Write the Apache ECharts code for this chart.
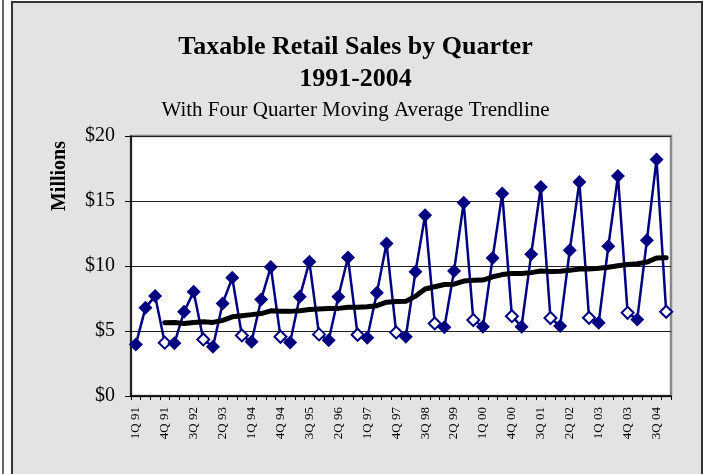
<!DOCTYPE html>
<html>
<head>
<meta charset="UTF-8">
<title>Taxable Retail Sales by Quarter</title>
<script src="https://cdn.jsdelivr.net/npm/echarts@6/dist/echarts.min.js"></script>
<style>
  html, body { margin: 0; padding: 0; background: #fff; }
</style>
</head>
<body>
<div id="main" style="width:711px;height:474px;"></div>
<script type="text/javascript">
// quarter labels, 1Q 91 .. 4Q 04
var quarters = [
  '1Q 91','2Q 91','3Q 91','4Q 91','1Q 92','2Q 92','3Q 92','4Q 92',
  '1Q 93','2Q 93','3Q 93','4Q 93','1Q 94','2Q 94','3Q 94','4Q 94',
  '1Q 95','2Q 95','3Q 95','4Q 95','1Q 96','2Q 96','3Q 96','4Q 96',
  '1Q 97','2Q 97','3Q 97','4Q 97','1Q 98','2Q 98','3Q 98','4Q 98',
  '1Q 99','2Q 99','3Q 99','4Q 99','1Q 00','2Q 00','3Q 00','4Q 00',
  '1Q 01','2Q 01','3Q 01','4Q 01','1Q 02','2Q 02','3Q 02','4Q 02',
  '1Q 03','2Q 03','3Q 03','4Q 03','1Q 04','2Q 04','3Q 04','4Q 04'
];

// taxable retail sales, $ millions
var sales = [
  3.97, 6.78, 7.70, 4.10, 4.05, 6.48, 8.01, 4.35,
  3.79, 7.12, 9.09, 4.66, 4.17, 7.43, 9.93, 4.56,
  4.12, 7.63, 10.32, 4.74, 4.28, 7.63, 10.65, 4.71,
  4.48, 7.94, 11.73, 4.89, 4.56, 9.55, 13.90, 5.58,
  5.28, 9.62, 14.87, 5.84, 5.33, 10.62, 15.57, 6.14,
  5.33, 10.90, 16.08, 6.00, 5.38, 11.21, 16.46, 6.02,
  5.63, 11.52, 16.92, 6.40, 5.89, 11.98, 18.20, 6.48
];

// four quarter moving average trendline
var movingAvg = [
  null, null, null, 5.64, 5.66, 5.58, 5.66, 5.72,
  5.66, 5.82, 6.09, 6.17, 6.26, 6.34, 6.55, 6.52,
  6.51, 6.56, 6.66, 6.70, 6.74, 6.74, 6.83, 6.82,
  6.87, 6.95, 7.22, 7.26, 7.28, 7.68, 8.23, 8.40,
  8.58, 8.60, 8.84, 8.90, 8.92, 9.17, 9.34, 9.42,
  9.42, 9.49, 9.61, 9.58, 9.59, 9.67, 9.76, 9.77,
  9.83, 9.91, 10.02, 10.12, 10.18, 10.30, 10.62, 10.64
];

var yTicks = [0, 5, 10, 15, 20];

var serif = 'Liberation Serif';
var navy = '#000080';

// 4th quarter points are drawn as open diamonds
var salesData = sales.map(function (v, i) {
  if (quarters[i].indexOf('4Q') === 0) {
    return {
      value: v,
      symbolSize: 12,
      itemStyle: { color: '#fff', borderColor: navy, borderWidth: 2 }
    };
  }
  return v;
});

var myChart = echarts.init(document.getElementById('main'));

var option = {
  backgroundColor: '#fff',
  animation: false,
  title: {
    text: 'Taxable Retail Sales by Quarter\n1991-2004',
    subtext: 'With Four Quarter Moving Average Trendline',
    left: 'center',
    top: 26,
    itemGap: 5,
    textStyle: {
      fontFamily: serif,
      fontWeight: 'bold',
      fontSize: 26,
      lineHeight: 32,
      color: '#000'
    },
    subtextStyle: {
      fontFamily: serif,
      fontSize: 21,
      color: '#000'
    }
  },
  graphic: [
    {
      type: 'rect',
      z: -10,
      shape: { x: 12, y: 2, width: 690, height: 480 },
      style: { fill: '#e3e3e3', stroke: '#333', lineWidth: 2 }
    },
    {
      type: 'line',
      z: -10,
      shape: { x1: 3, y1: 0, x2: 3, y2: 474 },
      style: { stroke: '#333', lineWidth: 1.5 }
    },
    {
      type: 'text',
      x: 60,
      y: 176,
      rotation: Math.PI / 2,
      style: {
        text: 'Millions',
        font: 'bold 20px "Liberation Serif"',
        fill: '#000',
        align: 'center',
        verticalAlign: 'middle'
      }
    }
  ],
  grid: {
    left: 131,
    right: 40,
    top: 136,
    bottom: 78,
    show: true,
    backgroundColor: '#fff',
    borderColor: '#888',
    borderWidth: 2.5
  },
  xAxis: {
    type: 'category',
    data: quarters,
    boundaryGap: true,
    axisLine: { lineStyle: { color: '#000', width: 1.5 } },
    axisTick: {
      show: true,
      interval: 0,
      length: 4,
      lineStyle: { color: '#000' }
    },
    axisLabel: {
      interval: 2,
      rotate: 90,
      margin: 11,
      fontFamily: serif,
      fontSize: 13,
      color: '#000'
    },
    splitLine: { show: false }
  },
  yAxis: {
    type: 'value',
    min: yTicks[0],
    max: yTicks[yTicks.length - 1],
    interval: 5,
    axisLine: { show: true, lineStyle: { color: '#000', width: 1.5 } },
    axisTick: { show: true, length: 6, lineStyle: { color: '#000' } },
    axisLabel: {
      margin: 16,
      fontFamily: serif,
      fontSize: 20,
      color: '#000',
      formatter: function (v) { return '$' + v; }
    },
    splitLine: { lineStyle: { color: '#222', width: 1 } }
  },
  series: [
    {
      name: 'Sales',
      type: 'line',
      data: salesData,
      symbol: 'diamond',
      symbolSize: 14,
      showAllSymbol: true,
      lineStyle: { color: navy, width: 2.5 },
      itemStyle: { color: navy }
    },
    {
      name: 'Four Quarter Moving Average',
      type: 'line',
      data: movingAvg,
      showSymbol: false,
      connectNulls: false,
      lineStyle: { color: '#000', width: 5, join: 'round', cap: 'round' }
    }
  ]
};

myChart.setOption(option);
</script>
</body>
</html>
